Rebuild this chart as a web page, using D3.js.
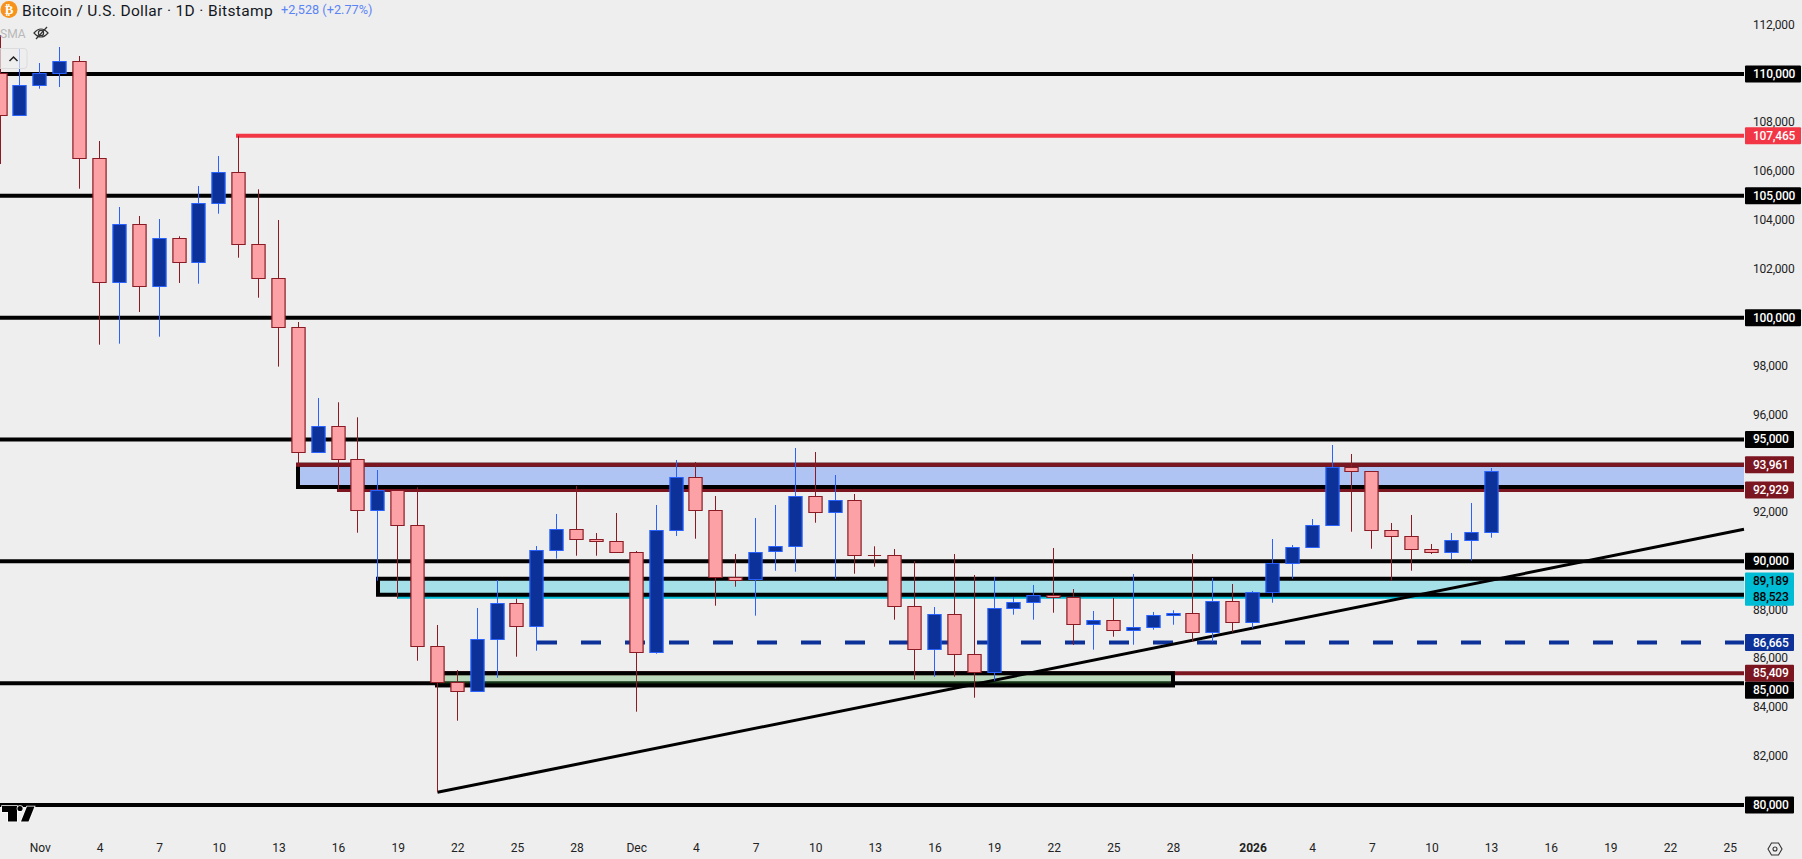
<!DOCTYPE html>
<html><head><meta charset="utf-8">
<script src="https://cdn.jsdelivr.net/npm/d3@7/dist/d3.min.js"></script>
<style>
html,body{margin:0;padding:0;background:#eeeeee;overflow:hidden}
svg{display:block}
text{font-family:Roboto,"Noto Sans",sans-serif}
</style></head><body>
<svg id="c" width="1802" height="859"></svg>
<script>
// Day index 0 = 1 Nov 2025
const firstDay = -2;
const opens = [110029,108289,109528,110029,110521,106540,101451,103832,101287,103257,102272,104681,105966,103011,101616,99605,94475,95542,94171,92094,92915,91462,86513,85035,84666,86800,88278,87334,90453,91315,90904,90822,90371,86267,91273,93449,92094,89345,89263,90412,90617,92669,92012,92505,90248,90248,88154,86390,87826,86184,85446,88072,88319,88606,88524,87416,87580,87169,87293,87785,87867,87087,88360,87498,88729,89919,90576,91479,93859,93695,91273,91027,90494,90371,90863,91191];
const closes = [108289,109528,110029,110521,106540,101451,103832,101287,103257,102272,104681,105966,103011,101616,99605,94475,95542,94171,92094,92915,91462,86513,85035,84666,86800,88278,87334,90453,91315,90904,90822,90371,86267,91273,93449,92094,89345,89222,90371,90617,92669,92012,92505,90248,90227,88154,86390,87826,86184,85446,88072,88319,88606,88524,87416,87580,87169,87293,87785,87867,87087,88360,87498,88729,89919,90576,91479,93859,93695,91273,91027,90494,90371,90863,91191,93695];
const highs = [111601,111026,110451,111108,110739,107250,104542,104172,104049,103339,105404,106635,107465,105268,104008,99822,96703,96527,95911,93748,92915,93038,87387,85540,88085,89234,88466,90629,91942,93092,91163,91983,90424,92312,94159,94077,92681,90301,91778,92312,94651,94487,93543,92763,90617,90506,90014,88126,90301,89439,89357,88536,89029,90547,88864,87962,88495,89480,87921,87990,90301,89316,89070,88782,90916,90670,91737,94774,94405,93695,91573,91901,90711,91163,92394,93830];
const lows = [106306,108289,109397,109467,105293,98891,98932,100233,99219,101423,101394,104267,102461,100819,97992,93884,94475,92927,91175,89205,88483,85922,80521,83460,84666,85224,86086,86332,90108,90231,90231,90371,83829,86209,91040,90929,88179,88959,87769,89615,89574,91585,89287,89492,89780,87605,85142,85265,85265,84403,85101,87810,87605,87892,86566,86374,86907,86579,87194,87399,86702,86702,87087,87252,88302,89287,90576,91479,91216,90518,89193,89615,90301,90096,90026,90970];

const priceTicks = [112000,108000,106000,104000,102000,98000,96000,92000,88000,86000,84000,82000];
const blackLevels = [110000,105000,100000,95000,90000,85000,80000];
const resistanceHigh = 107465;
const blueZone = [93961,92929];
const blueZoneFrame = [93961,93051];
const cyanZone = [89189,88523];
const cyanZoneFrame = [89290,88630];
const greenZoneFrame = [85409,84906];
const darkRedLevel = 85409;
const dashedLevel = 86665;
const trendPoints = [[20,80521],[85.72,91315]];

const dayTicks = [0,3,6,9,12,15,18,21,24,27,30,33,36,39,42,45,48,51,54,57,61,64,67,70,73,76,79,82,85];
const dayTickLabels = ["Nov","4","7","10","13","16","19","22","25","28","Dec","4","7","10","13","16","19","22","25","28","2026","4","7","10","13","16","19","22","25"];

const badges = [
 {v:110000,bg:"#000000",fg:"#ffffff"},
 {v:107465,bg:"#f23645",fg:"#ffffff"},
 {v:105000,bg:"#000000",fg:"#ffffff"},
 {v:100000,bg:"#000000",fg:"#ffffff"},
 {v:95000,bg:"#000000",fg:"#ffffff"},
 {v:93961,bg:"#7b1520",fg:"#ffffff"},
 {v:92929,bg:"#7b1520",fg:"#ffffff"},
 {v:90000,bg:"#000000",fg:"#ffffff"},
 {v:89189,bg:"#00bcd4",fg:"#000000"},
 {v:88523,bg:"#00bcd4",fg:"#000000"},
 {v:86665,bg:"#0c3299",fg:"#ffffff"},
 {v:85409,bg:"#7b1520",fg:"#ffffff"},
 {v:85000,bg:"#000000",fg:"#ffffff",dy:7},
 {v:80000,bg:"#000000",fg:"#ffffff"}
];

const W = 1802, H = 859, plotR = 1744;
const svg = d3.select("#c");
const x = d3.scaleLinear().domain([0,73]).range([39.86,1491.1]);
const y = d3.scaleLinear().domain([110000,80000]).range([74,805]);
const fmt = d3.format(",");

svg.append("rect").attr("width",W).attr("height",H).attr("fill","#eeeeee");

// axes
const yAxis = d3.axisRight(y).tickValues(priceTicks).tickSize(0).tickPadding(0).tickFormat(fmt);
const gy = svg.append("g").attr("transform","translate(1753,0)").call(yAxis);
gy.select(".domain").remove();
gy.selectAll("text").attr("font-size",12).attr("fill","#222222").attr("dy","0.26em").attr("letter-spacing","-0.2");

const labelOf = new Map(dayTicks.map((d,i)=>[d,dayTickLabels[i]]));
const xAxis = d3.axisBottom(x).tickValues(dayTicks).tickSize(0).tickPadding(0).tickFormat(d=>labelOf.get(d));
const gx = svg.append("g").attr("transform","translate(0,843)").call(xAxis);
gx.select(".domain").remove();
gx.selectAll("text").attr("font-size",12).attr("fill","#222222")
  .attr("font-weight",d=>labelOf.get(d)==="2026"?700:400);

// drawings under the candles
const g = svg.append("g");
function hline(v,x0,color,w,dash){
  const l=g.append("line").attr("x1",x0).attr("x2",plotR).attr("y1",y(v)).attr("y2",y(v))
    .attr("stroke",color).attr("stroke-width",w);
  if(dash) l.attr("stroke-dasharray",dash);
  return l;
}
// zone frame open on its right side, where it runs into the price scale
function zone(frame,x0,fill){
  const t=y(frame[0]), b=y(frame[1]);
  g.append("rect").attr("x",x0).attr("y",t).attr("width",plotR-x0).attr("height",b-t).attr("fill",fill);
  g.append("path").attr("d",`M${plotR},${t}H${x0}V${b}H${plotR}`).attr("fill","none").attr("stroke","#000").attr("stroke-width",4);
}
// blue zone
hline(blueZone[1],337,"#7b1520",4);
zone(blueZoneFrame,298,"#b0c4f4");
hline(blueZone[0],296,"#7b1520",4);
// cyan zone
hline(cyanZone[0],378,"#00bcd4",3);
hline(cyanZone[1],397,"#00bcd4",3);
zone(cyanZoneFrame,378,"#a5e0e8");
// black levels
blackLevels.forEach(v=>hline(v,0,"#000",4));
hline(resistanceHigh,236,"#f23645",4);
hline(dashedLevel,537,"#0c3299",4,"20 24");
hline(darkRedLevel,436,"#7b1520",4);
// green zone
g.append("rect").attr("x",437).attr("y",y(greenZoneFrame[0])).attr("width",1173-437)
  .attr("height",y(greenZoneFrame[1])-y(greenZoneFrame[0])).attr("fill","rgba(71,168,71,0.3)").attr("stroke","#000").attr("stroke-width",4);
// trend line
const tl = d3.line().x(d=>x(d[0])).y(d=>y(d[1]));
g.append("path").attr("d",tl(trendPoints)).attr("fill","none").attr("stroke","#000").attr("stroke-width",3);

// candles
const snap = v=>Math.floor(v)+0.5;
const candles = opens.map((o,i)=>({day:firstDay+i,o,c:closes[i],h:highs[i],l:lows[i]}));
const cg = svg.append("g").selectAll("g").data(candles).join("g");
cg.each(function(d){
  const up = d.c>=d.o, s=d3.select(this), cx=snap(x(d.day)), border=up?"#2962ff":"#8a1a24", fill=up?"#0c3299":"#fca2a6";
  s.append("line").attr("x1",cx).attr("x2",cx).attr("y1",y(d.h)).attr("y2",y(d.l)).attr("stroke",border).attr("stroke-width",1);
  const top=snap(y(Math.max(d.o,d.c))), bot=snap(y(Math.min(d.o,d.c)));
  s.append("path").attr("d",`M${cx-6.6},${top}H${cx+6.6}V${bot}H${cx-6.6}Z`).attr("fill",fill).attr("stroke",border).attr("stroke-width",1.2);
});

// price badges
const bg = svg.append("g").selectAll("g").data(badges).join("g")
  .attr("transform",d=>`translate(1745,${y(d.v)+(d.dy||0)})`);
bg.append("rect").attr("x",0).attr("y",-8.5).attr("height",17).attr("rx",1)
  .attr("width",d=>d.v>=100000?56:49).attr("fill",d=>d.bg);
bg.append("text").attr("x",8).attr("dy","0.33em").attr("font-size",12).attr("font-weight",500).attr("letter-spacing","-0.2")
  .attr("fill",d=>d.fg).text(d=>fmt(d.v));

// header
const hd = svg.append("g");
hd.append("circle").attr("cx",9).attr("cy",9.5).attr("r",8.5).attr("fill","#f7931a");
hd.append("text").attr("x",9).attr("y",14).attr("text-anchor","middle").attr("font-size",13).attr("font-weight",700)
  .attr("fill","#fff").style("font-family","'DejaVu Sans'").text("₿");
hd.append("text").attr("x",22).attr("y",15.5).attr("font-size",15.5).attr("letter-spacing","0.35").attr("fill","#131722").text("Bitcoin / U.S. Dollar · 1D · Bitstamp");
hd.append("text").attr("x",281).attr("y",14).attr("font-size",12.7).attr("fill","#5b84f5").text("+2,528 (+2.77%)");
hd.append("text").attr("x",0).attr("y",38).attr("font-size",12).attr("fill","#b8b8b8").text("SMA");
const eye = hd.append("g").attr("fill","none").attr("stroke","#333").attr("stroke-width",1.2);
eye.append("path").attr("d","M34,33 Q41,25 48,33 Q41,41 34,33Z");
eye.append("circle").attr("cx",41).attr("cy",33).attr("r",2.6);
eye.append("path").attr("d","M36,39 L47,27");
// collapse button
hd.append("rect").attr("x",-2).attr("y",48.5).attr("width",29).attr("height",20).attr("rx",3)
  .attr("fill","rgba(238,238,238,0.7)").attr("stroke","#dcdcdc");
hd.append("path").attr("d","M9.5,61 L13.5,57 L17.5,61").attr("fill","none").attr("stroke","#222").attr("stroke-width",1.5);

// logo
const logo = svg.append("g").attr("fill","#000").attr("stroke","#fff").attr("stroke-width",1.5).attr("paint-order","stroke");
logo.append("path").attr("d","M2,806 H17 V821.5 H8 V812 H2 Z");
logo.append("circle").attr("cx",20).attr("cy",808.5).attr("r",2.6);
logo.append("path").attr("d","M27,806.5 H34.5 L28.5,821.5 H21 Z");

// settings icon
const hex = svg.append("g").attr("fill","none").attr("stroke","#333").attr("stroke-width",1.1);
hex.append("path").attr("d","M1768,849 L1771.5,843 H1778.5 L1782,849 L1778.5,855 H1771.5 Z");
hex.append("circle").attr("cx",1775).attr("cy",849).attr("r",2);
</script>
</body></html>
